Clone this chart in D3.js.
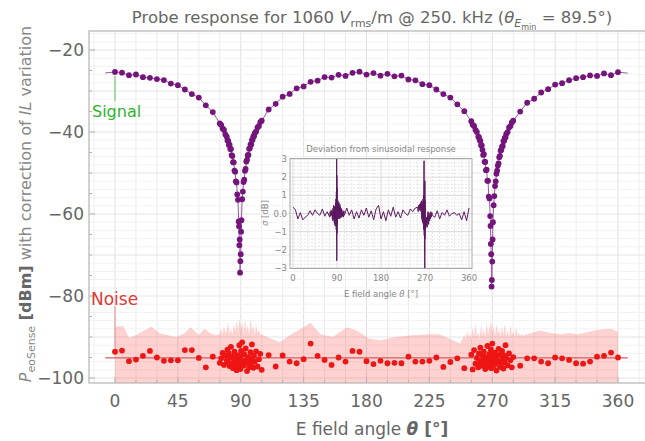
<!DOCTYPE html>
<html><head><meta charset="utf-8">
<script src="https://cdn.jsdelivr.net/npm/d3@7/dist/d3.min.js"></script>
<style>
body{margin:0;background:#fff;}
svg{display:block;font-family:"DejaVu Sans",sans-serif;}
</style></head><body>
<svg id="c" width="645" height="441"></svg>
<script>
// ---------- DATA ----------
const angles = [
 0,5,10,15,20,25,30,35,40,45,50,55,60,65,70,
 75,76,77,78,79,
 80,80.5,81,81.5,82,82.5,83,83.5,84,84.5,85,85.5,86,86.5,87,87.5,88,88.5,
 88.75,89,89.25,89.5,89.75,90,90.25,
 90.5,91,91.5,92,92.5,93,93.5,94,94.5,95,95.5,96,96.5,97,97.5,98,98.5,99,99.5,100,
 101,102,103,104,105,
 110,115,120,125,130,135,140,145,150,155,160,165,170,175,180,185,190,195,200,205,210,215,220,225,230,235,240,245,250,
 255,256,257,258,259,
 260,260.5,261,261.5,262,262.5,263,263.5,264,264.5,265,265.5,266,266.5,267,267.5,268,268.5,
 268.75,269,269.25,269.5,269.75,270,270.25,
 270.5,271,271.5,272,272.5,273,273.5,274,274.5,275,275.5,276,276.5,277,277.5,278,278.5,279,279.5,280,
 281,282,283,284,285,
 290,295,300,305,310,315,320,325,330,335,340,345,350,355,360
];
const signal = [
 -25.35,-25.54,-26.15,-25.97,-26.62,-26.79,-27.09,-27.34,-28.18,-28.59,-29.63,-30.74,-31.6,-33.5,-35.13,
 -37.93,-38.24,-39.14,-39.51,-40.59,
 -41.16,-42.08,-42.17,-43.2,-43.06,-44.16,-44.15,-45.65,-45.85,-47.38,-47.39,-49.42,-49.68,-52.02,-52.3,-55.24,-56.54,-61.8,
 -63.0,-67.6,-66.2,-74.3,-71.5,-69.8,-64.3,
 -61.5,-56.4,-54.54,-52.2,-51.62,-49.48,-49.02,-47.19,-46.78,-45.65,-45.6,-44.1,-43.96,-43.01,-43.05,-41.97,-41.88,-41.06,-41.06,-40.29,
 -39.86,-38.89,-38.54,-37.58,-37.26,
 -34.51,-33.12,-31.39,-30.72,-29.35,-28.88,-27.75,-27.48,-26.61,-26.72,-26.06,-26.33,-25.57,-25.28,-26.0,-25.64,-26.25,-25.82,-26.42,-26.24,-27.19,-27.39,-28.33,-28.59,-29.63,-30.74,-31.6,-33.25,-34.93,
 -37.38,-38.24,-38.54,-39.51,-39.99,
 -41.16,-41.23,-41.97,-42.2,-43.26,-43.26,-44.35,-45.6,-45.4,-47.28,-47.29,-49.32,-49.18,-51.92,-51.9,-55.74,-56.2,-60.5,
 -62.9,-67.3,-69.8,-77.7,-76.1,-71.6,-66.2,
 -62.0,-57.84,-55.64,-53.2,-52.02,-50.18,-49.42,-48.19,-47.63,-46.15,-45.8,-44.5,-44.41,-43.56,-43.4,-42.22,-42.13,-41.46,-41.26,-40.49,
 -40.01,-38.89,-38.54,-37.68,-37.26,
 -35.01,-32.87,-31.89,-30.37,-29.55,-28.43,-28.1,-27.38,-26.86,-26.62,-26.21,-26.33,-25.72,-26.13,-25.4
];
const noise = [
 -93.6,-93.3,-95.9,-95.5,-94.6,-93.4,-95.0,-95.8,-95.7,-95.7,-93.2,-93.2,-95.1,-97.4,-94.8,
 -96.3,-95.2,-93.9,-96.8,-94.5,
 -95.7,-93.1,-96.2,-94.0,-97.1,-95.0,-92.4,-96.5,-94.8,-97.6,-95.3,-93.6,-96.9,-95.8,-98.1,-94.4,-96.2,-95.1,
 -97.3,-92.0,-96.0,-94.7,-97.8,-95.5,-93.4,
 -96.6,-91.3,-95.9,-97.0,-94.2,-96.4,-92.8,-95.6,-98.3,-96.1,-94.9,-97.4,-95.3,-93.7,-96.8,-91.8,-95.8,-97.5,-94.6,-96.0,
 -93.5,-97.2,-95.4,-94.1,-98.0,
 -94.4,-97.2,-94.5,-96.0,-96.4,-95.4,-91.6,-94.6,-95.6,-96.8,-95.0,-96.0,-93.4,-93.6,-95.9,-96.6,-95.8,-96.4,-96.3,-96.4,-94.8,-96.0,-96.0,-95.8,-95.0,-97.3,-96.1,-95.2,-97.6,
 -94.3,-97.9,-93.2,-96.5,-95.1,
 -97.4,-94.0,-96.2,-92.6,-95.8,-97.0,-94.5,-96.7,-93.6,-95.4,-97.8,-94.9,-96.3,-92.2,-95.6,-97.2,-94.1,-96.0,
 -95.2,-93.0,-97.6,-94.8,-96.4,-91.6,-95.7,
 -97.1,-94.3,-96.8,-93.8,-95.5,-98.2,-94.6,-96.1,-92.9,-95.9,-97.3,-94.2,-96.5,-93.4,-95.3,-97.7,-94.5,-96.2,-92.0,-95.1,
 -96.9,-94.0,-95.7,-97.4,-94.9,
 -97.0,-95.2,-95.2,-96.0,-96.4,-95.0,-95.2,-95.6,-96.4,-96.5,-96.0,-94.8,-94.6,-93.8,-95.0
];
const sigma = [
 0.35,0.2,-0.3,0.05,-0.35,-0.2,-0.1,0.15,-0.1,0.2,0.0,-0.1,0.25,-0.15,0.1,
 -0.2,0.1,-0.15,0.2,-0.1,
 0.15,-0.3,0.1,-0.4,0.3,-0.2,0.45,-0.35,0.2,-0.5,0.4,-0.6,0.3,-0.7,0.6,-0.4,0.8,-0.9,
 1.2,-1.5,3.4,-2.6,2.1,-1.1,1.4,
 -0.6,0.9,0.3,0.7,-0.3,0.5,-0.2,0.6,0.1,0.4,-0.3,0.5,0.0,0.35,-0.25,0.3,-0.1,0.25,-0.2,0.2,
 -0.15,0.1,-0.2,0.15,-0.1,
 0.3,-0.1,0.2,-0.3,0.1,-0.25,0.2,-0.1,0.3,-0.2,0.15,-0.35,0.25,0.45,-0.3,0.1,-0.4,0.2,-0.15,0.35,-0.2,0.1,-0.25,0.2,0.0,-0.1,0.25,0.1,0.3,
 0.35,0.1,0.45,0.2,0.5,
 0.15,0.55,0.3,0.6,0.1,0.7,0.25,-0.3,0.65,-0.4,0.5,-0.5,0.8,-0.6,1.0,-0.9,2.9,-1.2,
 1.6,-2.1,0.9,-3.6,1.8,-1.4,0.7,
 -0.9,-0.5,-0.8,-0.3,-0.7,-0.2,-0.6,-0.4,-0.75,-0.1,-0.5,0.1,-0.45,-0.2,-0.6,0.05,-0.35,-0.15,-0.4,0.0,
 -0.3,0.1,-0.2,0.05,-0.1,
 -0.2,0.15,-0.3,0.05,-0.1,0.2,-0.15,0.0,0.05,-0.1,0.0,-0.35,0.1,-0.4,0.3
];
const bandAngles = [
 0,3,6,10,15,20,26,32,38,44,50,54,60,64,68,72,
 75,76,77,78,79,80,81,82,83,84,85,86,87,88,89,90,91,92,93,94,95,96,97,98,99,100,101,102,103,104,105,
 110,118,125,132,140,147,156,166,173,182,190,201,213,223,232,242,247,
 250,251,252,253,254,255,256,257,258,259,260,261,262,263,264,265,266,267,268,269,270,271,272,273,274,275,276,277,278,279,280,281,282,283,284,285,286,287,288,289,290,291,292,
 295,304,312,319,325,331,337,343,349,355,360
];
const bandTop = [
 -87.6,-87.4,-87.4,-90.2,-89.5,-88.6,-87.5,-89.1,-89.6,-90.0,-89.0,-87.6,-89.5,-88.0,-89.0,-89.6,
 -89.2,-88.0,-89.5,-87.3,-89.0,-88.4,-86.5,-89.3,-87.8,-89.6,-86.9,-88.8,-85.9,-89.0,-85.4,-88.2,-86.3,-89.4,-85.6,-88.7,-87.0,-89.5,-85.5,-88.6,-87.2,-89.6,-86.8,-89.0,-88.2,-89.3,-89.4,
 -90.2,-91.3,-89.6,-88.2,-86.5,-89.3,-90.0,-87.6,-88.4,-90.4,-90.8,-90.0,-89.6,-89.3,-89.3,-90.8,-91.6,
 -89.5,-90.6,-88.4,-90.2,-89.0,-90.5,-87.6,-90.0,-86.6,-89.8,-88.9,-90.3,-87.2,-89.6,-88.0,-90.1,-86.5,-89.4,-87.9,-86.3,-89.0,-87.1,-89.7,-86.8,-89.2,-88.1,-90.0,-87.4,-89.5,-86.7,-89.9,-88.3,-90.2,-87.0,-89.6,-88.6,-90.1,-87.5,-89.8,-88.9,-90.0,-89.2,-89.7,
 -89.3,-88.4,-89.0,-89.3,-89.0,-89.3,-88.9,-88.4,-88.1,-88.0,-88.8
];
const fitEndAngles = [-7, 367];
const fitEndValues = [-25.6, -25.65];
const noiseMean = -95.1;
const noiseMeanSpan = [-7, 367];
const xTicks = [0,45,90,135,180,225,270,315,360];
const yTicks = [-20,-40,-60,-80,-100];
const insetXTicks = [0,90,180,270,360];
const insetYTicks = [3,2,1,0,-1,-2,-3];

// ---------- LAYOUT ----------
const svg = d3.select("#c");
const L=89, R=648, T=31, B=383;
const x = d3.scaleLinear().domain([0,360]).range([115,618]);
const y = d3.scaleLinear().domain([-20,-100]).range([50,378]);
const yBottom = y.invert(B);

const defs = svg.append("defs");
defs.append("clipPath").attr("id","mainclip").append("rect")
  .attr("x",L).attr("y",T).attr("width",R-L).attr("height",B-T);

// grid
const g = svg.append("g");
const vgrid = d3.range(-15, 400, 15).filter(a => x(a)>L && x(a)<R);
g.selectAll("line.vg").data(vgrid).join("line")
  .attr("x1",d=>x(d)).attr("x2",d=>x(d)).attr("y1",T).attr("y2",B)
  .attr("stroke", d => d%45===0 ? "#e0e0e0" : "#ececec").attr("stroke-width",1);
const hgrid = d3.range(-100, -14, 2).filter(v => y(v)>T && y(v)<B);
g.selectAll("line.hg").data(hgrid).join("line")
  .attr("x1",L).attr("x2",R).attr("y1",d=>y(d)).attr("y2",d=>y(d))
  .attr("stroke", d => d%10===0 ? "#e4e4e4" : "#f2f2f2").attr("stroke-width",1);

const plot = svg.append("g").attr("clip-path","url(#mainclip)");

// noise band
const band = bandAngles.map((a,i)=>[a,bandTop[i]]);
plot.append("path").datum(band)
  .attr("d", d3.area().x(d=>x(d[0])).y0(y(yBottom)).y1(d=>y(d[1])))
  .attr("fill","#ff3030").attr("fill-opacity",0.22);

// noise mean line
plot.append("line")
  .attr("x1",x(noiseMeanSpan[0])).attr("x2",x(noiseMeanSpan[1]))
  .attr("y1",y(noiseMean)).attr("y2",y(noiseMean))
  .attr("stroke","#d06060").attr("stroke-width",1.2);

// noise points
plot.selectAll("circle.n").data(angles.map((a,i)=>[a,noise[i]])).join("circle")
  .attr("cx",d=>x(d[0])).attr("cy",d=>y(d[1])).attr("r",2.9).attr("fill","#ee1515");

// signal line + points
const sigLine = [[fitEndAngles[0],fitEndValues[0]]].concat(angles.map((a,i)=>[a,signal[i]]), [[fitEndAngles[1],fitEndValues[1]]]);
plot.append("path").datum(sigLine)
  .attr("d", d3.line().x(d=>x(d[0])).y(d=>y(d[1])))
  .attr("fill","none").attr("stroke","#9a5aa0").attr("stroke-width",1);
plot.selectAll("circle.s").data(angles.map((a,i)=>[a,signal[i]])).join("circle")
  .attr("cx",d=>x(d[0])).attr("cy",d=>y(d[1])).attr("r",2.9).attr("fill","#74157c");

// frame
svg.append("rect").attr("x",L).attr("y",T).attr("width",R-L).attr("height",B-T)
  .attr("fill","none").attr("stroke","#b4b4b4").attr("stroke-width",1.2);
svg.selectAll("line.xt").data(d3.range(0,361,15)).join("line")
  .attr("x1",d=>x(d)).attr("x2",d=>x(d)).attr("y1",B).attr("y2",d=> B-(d%45===0?6:3))
  .attr("stroke","#b4b4b4");
svg.selectAll("line.yt").data(d3.range(-100,-15,5)).join("line")
  .attr("y1",d=>y(d)).attr("y2",d=>y(d)).attr("x1",L).attr("x2",d=> L+(d%20===0?6:3))
  .attr("stroke","#b4b4b4");

// tick labels
svg.selectAll("text.xl").data(xTicks).join("text")
  .attr("x",d=>x(d)).attr("y",407).attr("text-anchor","middle")
  .attr("font-size",17).attr("fill","#666").text(d=>d);
svg.selectAll("text.yl").data(yTicks).join("text")
  .attr("x",84).attr("y",d=>y(d)+6).attr("text-anchor","end")
  .attr("font-size",17).attr("fill","#666").text(d=>String(d).replace("-","\u2212"));

// x axis label
const xl = svg.append("text").attr("x",372).attr("y",435).attr("text-anchor","middle")
  .attr("font-size",17).attr("fill","#666");
xl.append("tspan").text("E field angle ");
xl.append("tspan").attr("font-style","italic").attr("font-weight","bold").text("\u03B8");
xl.append("tspan").attr("font-weight","bold").text(" [\u00B0]");

// y axis label
const yl = svg.append("text").attr("transform","translate(31,204) rotate(-90)")
  .attr("text-anchor","middle").attr("font-size",16).attr("fill","#888");
yl.append("tspan").attr("font-style","italic").text("P");
yl.append("tspan").attr("font-size",11).attr("dy",4).text("eoSense");
yl.append("tspan").attr("dy",-4).attr("font-weight","bold").attr("fill","#666").text(" [dBm]");
yl.append("tspan").text(" with correction of ");
yl.append("tspan").attr("font-style","italic").text("IL");
yl.append("tspan").text(" variation");

// title
const tt = svg.append("text").attr("x",372).attr("y",23).attr("text-anchor","middle")
  .attr("font-size",16.5).attr("fill","#666");
tt.append("tspan").text("Probe response for 1060 ");
tt.append("tspan").attr("font-style","italic").text("V");
tt.append("tspan").attr("font-size",11).attr("dy",4).text("rms");
tt.append("tspan").attr("dy",-4).text("/m @ 250. kHz (");
tt.append("tspan").attr("font-style","italic").text("\u03B8");
tt.append("tspan").attr("font-style","italic").attr("font-size",11).attr("dy",4).text("E");
tt.append("tspan").attr("font-size",8).attr("dy",3).text("min");
tt.append("tspan").attr("dy",-7).text(" = 89.5\u00B0)");

// callouts
svg.append("line").attr("x1",x(0)).attr("x2",x(0)).attr("y1",y(signal[0])+4).attr("y2",101)
  .attr("stroke","#5cc65c").attr("stroke-width",1);
svg.append("text").attr("x",92).attr("y",117).attr("font-size",16).attr("fill","#2db52d").text("Signal");
svg.append("line").attr("x1",x(0)).attr("x2",x(0)).attr("y1",306).attr("y2",y(noise[0])-3)
  .attr("stroke","#f08a8a").attr("stroke-width",1);
svg.append("text").attr("x",91).attr("y",305).attr("font-size",17).attr("fill","#e03a3a").text("Noise");

// ---------- INSET ----------
const iL=290, iR=472, iT=158.5, iB=268.5;
const ix = d3.scaleLinear().domain([0,360]).range([293,469]);
const iy = d3.scaleLinear().domain([3,-3]).range([159,268]);
defs.append("clipPath").attr("id","insetclip").append("rect")
  .attr("x",iL).attr("y",iT).attr("width",iR-iL).attr("height",iB-iT);
const ig = svg.append("g");
ig.append("rect").attr("x",iL).attr("y",iT).attr("width",iR-iL).attr("height",iB-iT).attr("fill","#fff");
const ivg = d3.range(-15, 376, 15).filter(a=>ix(a)>iL && ix(a)<iR);
ig.selectAll("line.ivg").data(ivg).join("line")
  .attr("x1",d=>ix(d)).attr("x2",d=>ix(d)).attr("y1",iT).attr("y2",iB)
  .attr("stroke", d=> d%90===0 ? "#d8d8d8" : "#e4e4e4")
  .attr("stroke-dasharray", d=> d%90===0 ? null : "2,1.5");
const ihg = d3.range(-30, 31, 2).map(v=>v/10);
ig.selectAll("line.ihg").data(ihg).join("line")
  .attr("x1",iL).attr("x2",iR).attr("y1",d=>iy(d)).attr("y2",d=>iy(d))
  .attr("stroke", d=> Math.abs(d-Math.round(d))<1e-6 ? "#d8d8d8" : "#e6e6e6")
  .attr("stroke-dasharray", d=> Math.abs(d-Math.round(d))<1e-6 ? null : "2,1.5");
ig.append("path").datum(angles.map((a,i)=>[a,sigma[i]]))
  .attr("clip-path","url(#insetclip)")
  .attr("d", d3.line().x(d=>ix(d[0])).y(d=>iy(d[1])))
  .attr("fill","none").attr("stroke","#5e1a62").attr("stroke-width",1);
ig.append("rect").attr("x",iL).attr("y",iT).attr("width",iR-iL).attr("height",iB-iT)
  .attr("fill","none").attr("stroke","#a8a8a8").attr("stroke-width",1);
ig.selectAll("text.ixl").data(insetXTicks).join("text")
  .attr("x",d=>ix(d)).attr("y",281).attr("text-anchor","middle")
  .attr("font-size",8.5).attr("fill","#888").text(d=>d);
ig.selectAll("text.iyl").data(insetYTicks).join("text")
  .attr("x",287).attr("y",d=>iy(d)+3).attr("text-anchor","end")
  .attr("font-size",8.5).attr("fill","#888").text(d=> d===0 ? "0.0" : String(d).replace("-","\u2212"));
const ixl = ig.append("text").attr("x",381).attr("y",297).attr("text-anchor","middle")
  .attr("font-size",8.5).attr("fill","#888");
ixl.append("tspan").text("E field angle ");
ixl.append("tspan").attr("font-style","italic").text("\u03B8");
ixl.append("tspan").text(" [\u00B0]");
const iyl = ig.append("text").attr("transform","translate(268,213) rotate(-90)")
  .attr("text-anchor","middle").attr("font-size",8.5).attr("fill","#888");
iyl.append("tspan").attr("font-style","italic").text("\u03C3");
iyl.append("tspan").text(" [dB]");
ig.append("text").attr("x",381).attr("y",152).attr("text-anchor","middle")
  .attr("font-size",8.5).attr("fill","#888").text("Deviation from sinusoidal response");
</script>
</body></html>
